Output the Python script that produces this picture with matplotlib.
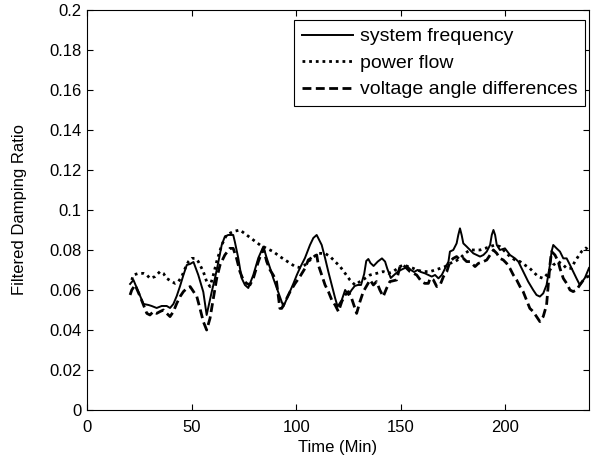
import matplotlib.pyplot as plt
import numpy as np

# traced data (time in min, filtered damping ratio)

t_freq = [20.6, 22.2, 23.8, 25.4, 27.0, 29.4, 30.9, 33.3, 35.7, 38.1, 39.7, 41.3, 42.9, 44.5,
          46.1, 47.7, 49.3, 50.9, 53.2, 55.6, 57.2, 59.6, 61.2, 62.8, 64.4, 65.9, 67.5, 69.9,
          70.7, 72.3, 73.9, 75.5, 77.1, 79.5, 81.9, 84.3, 85.9, 87.5, 89.0, 91.4, 93.9, 96.3,
          98.7, 100.3, 101.8, 104.2, 106.6, 108.2, 109.8, 112.2, 113.8, 115.4, 117.0, 118.6,
          119.8, 121.8, 123.4, 125.0, 126.5, 128.0, 129.5, 131.0, 132.5, 133.5, 134.5, 135.5,
          137.0, 139.0, 141.0, 142.5, 143.5, 145.2, 146.8, 148.4, 150.0, 151.6, 153.2, 154.8,
          156.4, 158.0, 159.6, 161.6, 163.2, 164.8, 166.4, 168.0, 169.6, 171.2, 172.8, 173.5,
          175.1, 176.7, 177.5, 178.3, 179.1, 179.9, 181.5, 183.1, 184.7, 186.3, 187.9, 189.5,
          191.1, 192.7, 193.5, 194.3, 195.1, 195.9, 197.4, 199.8, 202.2, 204.6, 206.2, 207.8,
          209.3, 210.9, 213.3, 214.9, 216.5, 218.1, 219.7, 221.3, 222.1, 222.9, 224.5, 226.1,
          227.7, 229.3, 230.9, 232.4, 234.0, 235.6, 238.0, 240.0]
d_freq = [0.063, 0.065, 0.061, 0.057, 0.053, 0.0525, 0.052, 0.051, 0.052, 0.052, 0.051, 0.053,
          0.057, 0.062, 0.0675, 0.0725, 0.073, 0.074, 0.0675, 0.059, 0.0475, 0.059, 0.066,
          0.074, 0.0825, 0.0867, 0.0875, 0.0875, 0.084, 0.076, 0.066, 0.0625, 0.061, 0.0675,
          0.076, 0.0817, 0.076, 0.071, 0.066, 0.059, 0.0517, 0.0575, 0.0633, 0.0675, 0.071,
          0.076, 0.0825, 0.086, 0.0875, 0.0825, 0.076, 0.069, 0.0625, 0.056, 0.0517, 0.055,
          0.06, 0.0575, 0.06, 0.062, 0.0625, 0.0625, 0.068, 0.0745, 0.0755, 0.0735, 0.072,
          0.0742, 0.0758, 0.0742, 0.0708, 0.066, 0.0675, 0.069, 0.07, 0.0708, 0.0717, 0.07,
          0.069, 0.07, 0.069, 0.0683, 0.0675, 0.0667, 0.0675, 0.0658, 0.0675, 0.0708, 0.0742,
          0.0792, 0.08, 0.0833, 0.0875, 0.0908, 0.0875, 0.0833, 0.0817, 0.08, 0.0783, 0.0775,
          0.0767, 0.0775, 0.0792, 0.0825, 0.0875, 0.09, 0.0875, 0.0825, 0.08, 0.0808, 0.0775,
          0.0758, 0.0742, 0.0708, 0.0675, 0.0642, 0.06, 0.0575, 0.0567, 0.0583, 0.0625,
          0.0725, 0.0792, 0.0825, 0.0808, 0.0792, 0.0758, 0.0758, 0.0725, 0.0692, 0.0658,
          0.0625, 0.066, 0.071]

t_flow = [21.4, 22.2, 24.6, 27.0, 28.6, 30.1, 32.5, 34.9, 36.5, 38.1, 40.5, 42.1, 43.7, 45.3,
          46.9, 48.5, 50.1, 51.7, 53.2, 55.6, 57.2, 58.8, 60.4, 62.0, 64.4, 66.7, 69.9, 73.1,
          76.3, 79.5, 82.7, 85.9, 89.0, 92.2, 94.7, 99.5, 101.8, 104.2, 107.4, 110.6, 113.8,
          116.2, 118.6, 121.0, 123.4, 125.7, 128.1, 130.5, 132.9, 135.3, 138.4, 141.6, 144.0,
          146.4, 149.6, 151.2, 153.6, 156.0, 157.6, 160.7, 164.0, 166.4, 168.8, 171.2, 173.5,
          175.9, 178.3, 180.7, 183.1, 185.5, 187.9, 190.3, 192.7, 195.1, 197.4, 199.8, 202.2,
          204.6, 207.0, 209.3, 211.7, 214.1, 215.7, 218.1, 219.7, 221.3, 222.9, 225.3, 227.7,
          229.3, 231.6, 233.2, 234.8, 236.4, 238.5, 240.0]
d_flow = [0.065, 0.0675, 0.0683, 0.0683, 0.0675, 0.0658, 0.0667, 0.0692, 0.0683, 0.0658,
          0.0642, 0.0633, 0.0642, 0.0667, 0.0708, 0.0742, 0.0758, 0.0758, 0.0742, 0.0692,
          0.0642, 0.0617, 0.0675, 0.0742, 0.0825, 0.0875, 0.0892, 0.09, 0.0875, 0.085, 0.0825,
          0.0808, 0.0792, 0.0767, 0.075, 0.0717, 0.0712, 0.0725, 0.0758, 0.0783, 0.0783,
          0.0767, 0.0742, 0.0717, 0.0683, 0.065, 0.0625, 0.0642, 0.0658, 0.0675, 0.0683,
          0.0692, 0.0683, 0.0692, 0.0717, 0.0725, 0.0717, 0.0708, 0.07, 0.0692, 0.0692, 0.07,
          0.0708, 0.0717, 0.0733, 0.0742, 0.0758, 0.0783, 0.08, 0.08, 0.08, 0.0808, 0.0817,
          0.0825, 0.0817, 0.0792, 0.0767, 0.075, 0.0742, 0.0725, 0.0708, 0.0683, 0.0667,
          0.0658, 0.0675, 0.07, 0.0725, 0.0742, 0.0725, 0.0708, 0.0708, 0.0742, 0.0767, 0.0792,
          0.081, 0.0795]

t_angle = [20.6, 21.4, 23.0, 25.4, 27.0, 28.6, 30.1, 31.7, 33.3, 34.9, 36.5, 38.1, 39.7, 41.3,
           42.9, 44.5, 46.1, 47.7, 49.3, 50.9, 52.5, 54.0, 55.6, 57.2, 58.8, 60.4, 62.0, 63.6,
           65.9, 68.3, 69.9, 71.5, 73.1, 74.7, 76.3, 77.9, 79.5, 81.9, 84.3, 85.9, 87.5, 89.0,
           90.6, 92.2, 93.1, 94.7, 97.1, 99.5, 101.8, 104.2, 105.8, 108.2, 109.8, 110.6, 112.2,
           113.8, 115.4, 117.0, 118.6, 120.2, 121.8, 123.4, 125.0, 126.5, 128.9, 130.5, 132.1,
           135.3, 136.9, 138.4, 140.0, 141.6, 143.2, 144.8, 148.0, 149.6, 151.2, 154.4, 157.6,
           159.9, 161.5, 163.2, 164.0, 165.6, 167.2, 168.8, 170.4, 172.0, 173.5, 175.1, 176.7,
           178.3, 179.9, 181.5, 183.1, 184.7, 185.5, 187.1, 189.5, 191.1, 192.7, 194.3, 195.9,
           197.4, 199.0, 200.6, 202.2, 203.8, 205.4, 207.0, 208.5, 210.1, 211.7, 213.3, 214.9,
           216.5, 218.1, 219.7, 220.5, 221.3, 222.1, 223.7, 225.3, 226.1, 227.7, 229.3, 230.9,
           232.4, 234.0, 235.6, 238.0, 240.0]
d_angle = [0.0575, 0.06, 0.0625, 0.0567, 0.0525, 0.0483, 0.0475, 0.0492, 0.0483, 0.0492,
           0.05, 0.0483, 0.0467, 0.0492, 0.0533, 0.0567, 0.0592, 0.0608, 0.0617, 0.0592,
           0.0567, 0.0508, 0.0442, 0.04, 0.0458, 0.0558, 0.0658, 0.0725, 0.0775, 0.0808, 0.0808,
           0.0758, 0.0692, 0.065, 0.0633, 0.0625, 0.0658, 0.0742, 0.0808, 0.0742, 0.07, 0.0675,
           0.0642, 0.0508, 0.0508, 0.0542, 0.0592, 0.0633, 0.0667, 0.0708, 0.075, 0.0767,
           0.0775, 0.0725, 0.0675, 0.0625, 0.0592, 0.055, 0.0525, 0.0492, 0.0542, 0.0575,
           0.0592, 0.0558, 0.0483, 0.0542, 0.0592, 0.065, 0.0625, 0.0642, 0.06, 0.0567, 0.0608,
           0.0642, 0.065, 0.0717, 0.0725, 0.0692, 0.0675, 0.0642, 0.0633, 0.0633, 0.0658, 0.065,
           0.0617, 0.0625, 0.0667, 0.0692, 0.0742, 0.0758, 0.0767, 0.075, 0.0758, 0.0742,
           0.0742, 0.0725, 0.0717, 0.0733, 0.0742, 0.075, 0.0775, 0.08, 0.0783, 0.0758, 0.075,
           0.0733, 0.0708, 0.0675, 0.065, 0.0617, 0.0592, 0.055, 0.0508, 0.0492, 0.0467,
           0.0442, 0.0467, 0.0525, 0.0625, 0.0725, 0.0792, 0.0775, 0.0742, 0.0708, 0.0658,
           0.0633, 0.06, 0.0592, 0.06, 0.0625, 0.066, 0.067]

x_ticks = [0, 50, 100, 150, 200]
y_ticks = np.round(np.arange(0, 0.201, 0.02), 2)
y_labels = ['0', '0.02', '0.04', '0.06', '0.08', '0.1', '0.12', '0.14', '0.16', '0.18', '0.2']

plt.rcParams['font.family'] = ['Liberation Sans', 'DejaVu Sans']
plt.rcParams['font.size'] = 12

fig = plt.figure(figsize=(5.98, 4.63), dpi=100)
ax = fig.add_axes([0.1455, 0.1145, 0.8395, 0.864])

ax.plot(t_freq, d_freq, color='black', linestyle='-', linewidth=1.4, label='system frequency')
ax.plot(t_flow, d_flow, color='black', linestyle=(0, (1, 1.4)), linewidth=2.0, label='power flow')
ax.plot(t_angle, d_angle, color='black', linestyle=(0, (3.2, 1.6)), linewidth=2.0,
        label='voltage angle differences')

ax.set_xlim(0, 240)
ax.set_ylim(0, 0.2)
ax.set_xticks(x_ticks)
ax.set_yticks(y_ticks)
ax.set_yticklabels(y_labels)

ax.set_xlabel('Time (Min)', labelpad=4)
ax.set_ylabel('Filtered Damping Ratio', labelpad=16)

ax.tick_params(direction='in', which='both', top=True, right=True, length=4.3, width=0.8)
ax.tick_params(axis='x', pad=7)
ax.tick_params(axis='y', pad=4)
for s in ax.spines.values():
    s.set_linewidth(0.8)

leg = ax.legend(loc='upper right', bbox_to_anchor=(0.992, 0.975), fancybox=False,
                edgecolor='black', framealpha=1, handlelength=2.62, handletextpad=0.36,
                borderpad=0.4, labelspacing=0.46, borderaxespad=0, fontsize=14)
leg.get_frame().set_linewidth(0.8)

fig.savefig('out.png', dpi=100)
